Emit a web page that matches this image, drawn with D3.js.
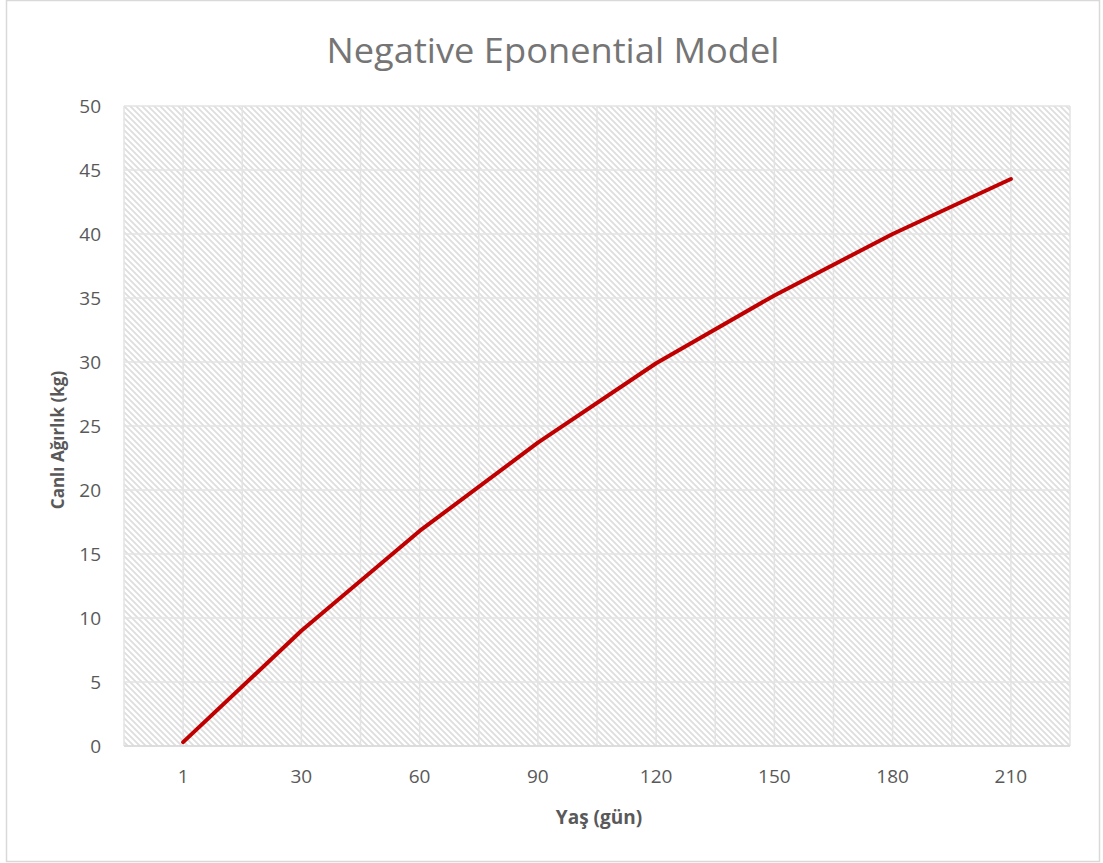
<!DOCTYPE html>
<html>
<head>
<meta charset="utf-8">
<script src="https://cdn.jsdelivr.net/npm/d3@7"></script>
<style>
  body { margin: 0; background: #fff; }
  text { font-family: "Open Sans", "Noto Sans", sans-serif; }
</style>
</head>
<body>
<div id="chart"></div>
<script>
// data
var ages = ["1", "30", "60", "90", "120", "150", "180", "210"];
var weights = [0.3, 9.0, 16.8, 23.7, 29.9, 35.2, 40.0, 44.3];
var yTicks = [0, 5, 10, 15, 20, 25, 30, 35, 40, 45, 50];

var width = 1103, height = 863;
var margin = {left: 124, right: 33, top: 106, bottom: 117};

var svg = d3.select("#chart").append("svg")
  .attr("width", width)
  .attr("height", height);

// chart outer border
svg.append("rect")
  .attr("x", 6.5).attr("y", 0.5)
  .attr("width", 1093).attr("height", 861)
  .attr("fill", "#fff")
  .attr("stroke", "#d9d9d9")
  .attr("stroke-width", 1.5);

// hatch pattern for plot area
var defs = svg.append("defs");
var pat = defs.append("pattern")
  .attr("id", "hatch")
  .attr("patternUnits", "userSpaceOnUse")
  .attr("width", 6).attr("height", 6);
pat.append("path")
  .attr("d", "M-1,-1 L7,7 M-1,5 L1,7 M5,-1 L7,1")
  .attr("stroke", "#dedede")
  .attr("stroke-width", 1.8);

var x = d3.scaleBand()
  .domain(ages)
  .range([margin.left, width - margin.right]);

var y = d3.scaleLinear()
  .domain([0, 50])
  .range([height - margin.bottom, margin.top]);

var plotW = width - margin.right - margin.left;
var plotH = height - margin.bottom - margin.top;

svg.append("rect")
  .attr("x", margin.left).attr("y", margin.top)
  .attr("width", plotW).attr("height", plotH)
  .attr("fill", "url(#hatch)");

// gridlines: horizontal at every y tick
svg.append("g").selectAll("line")
  .data(yTicks)
  .enter().append("line")
  .attr("x1", margin.left).attr("x2", width - margin.right)
  .attr("y1", function(d) { return y(d); })
  .attr("y2", function(d) { return y(d); })
  .attr("stroke", "#e3e3e3")
  .attr("stroke-width", 1.5);

// vertical gridlines at band edges and band centers
var vLines = [];
ages.forEach(function(a) {
  vLines.push(x(a));
  vLines.push(x(a) + x.bandwidth() / 2);
});
vLines.push(width - margin.right);
svg.append("g").selectAll("line")
  .data(vLines)
  .enter().append("line")
  .attr("x1", function(d) { return d; })
  .attr("x2", function(d) { return d; })
  .attr("y1", margin.top).attr("y2", height - margin.bottom)
  .attr("stroke", "#e3e3e3")
  .attr("stroke-width", 1.5);

// x axis baseline
svg.append("line")
  .attr("x1", margin.left).attr("x2", width - margin.right)
  .attr("y1", y(0)).attr("y2", y(0))
  .attr("stroke", "#d9d9d9")
  .attr("stroke-width", 1.5);

// y tick labels
svg.append("g").selectAll("text")
  .data(yTicks)
  .enter().append("text")
  .attr("x", 101)
  .attr("y", function(d) { return y(d); })
  .attr("dy", "0.35em")
  .attr("text-anchor", "end")
  .attr("fill", "#595959")
  .attr("font-size", "19px")
  .text(function(d) { return d; });

// x tick labels
svg.append("g").selectAll("text")
  .data(ages)
  .enter().append("text")
  .attr("x", function(d) { return x(d) + x.bandwidth() / 2; })
  .attr("y", 783)
  .attr("text-anchor", "middle")
  .attr("fill", "#595959")
  .attr("font-size", "19px")
  .text(function(d) { return d; });

// the line
var line = d3.line()
  .x(function(d, i) { return x(ages[i]) + x.bandwidth() / 2; })
  .y(function(d) { return y(d); });

svg.append("path")
  .datum(weights)
  .attr("d", line)
  .attr("fill", "none")
  .attr("stroke", "#c00000")
  .attr("stroke-width", 4)
  .attr("stroke-linecap", "round")
  .attr("stroke-linejoin", "round");

// title
svg.append("text")
  .attr("x", 553).attr("y", 63)
  .attr("text-anchor", "middle")
  .attr("fill", "#757575")
  .attr("font-size", "34px")
  .attr("textLength", 453)
  .attr("lengthAdjust", "spacingAndGlyphs")
  .text("Negative Eponential Model");

// axis titles
svg.append("text")
  .attr("x", 599).attr("y", 824)
  .attr("text-anchor", "middle")
  .attr("fill", "#595959")
  .attr("font-size", "19px")
  .attr("font-weight", "bold")
  .text("Yaş (gün)");

svg.append("text")
  .attr("transform", "translate(64,440) rotate(-90)")
  .attr("text-anchor", "middle")
  .attr("fill", "#595959")
  .attr("font-size", "17px")
  .attr("font-weight", "bold")
  .text("Canlı Ağırlık (kg)");
</script>
</body>
</html>
